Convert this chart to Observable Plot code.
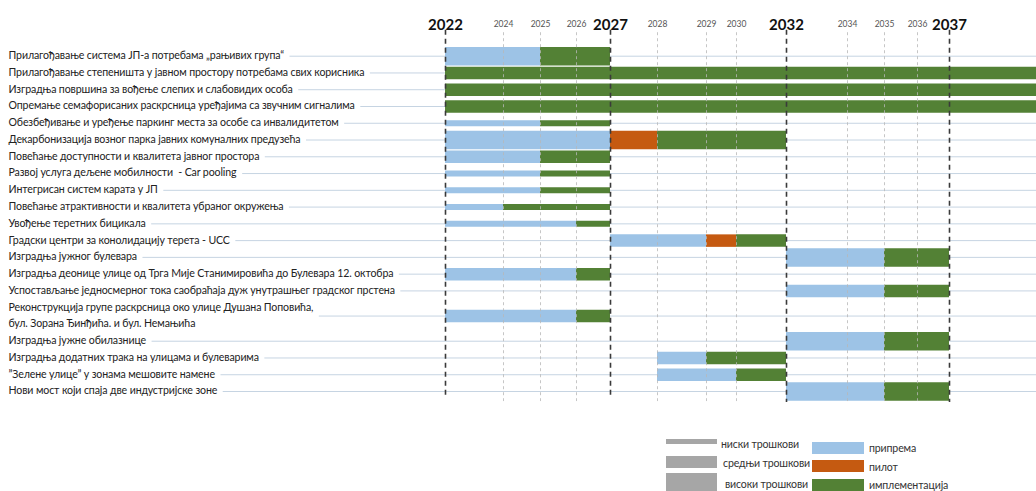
<!DOCTYPE html>
<html><head><meta charset="utf-8">
<script src="https://cdn.jsdelivr.net/npm/d3@7"></script>
<script src="https://cdn.jsdelivr.net/npm/@observablehq/plot@0.6"></script>
<style>
body{margin:0;background:#fff;font-family:Lato,sans-serif}
#legend{position:relative;height:71px;width:1036px;font-size:10.6px;letter-spacing:-0.15px;color:#333}
#legend div{position:absolute;white-space:nowrap}
</style>
</head><body><div id="chart"></div><div id="legend"></div>
<script>
// ---- data ----
const tasks = [
  "Прилагођавање система ЈП-а потребама „рањивих група“",
  "Прилагођавање степеништа у јавном простору потребама свих корисника",
  "Изградња површина за вођење слепих и слабовидих особа",
  "Опремање семафорисаних раскрсница уређајима са звучним сигналима",
  "Обезбеђивање и уређење паркинг места за особе са инвалидитетом",
  "Декарбонизација возног парка јавних комуналних предузећа",
  "Повећање доступности и квалитета јавног простора",
  "Развој услуга дељене мобилности  - Car pooling",
  "Интегрисан систем карата у ЈП",
  "Повећање атрактивности и квалитета убраног окружења",
  "Увођење теретних бицикала",
  "Градски центри за конолидацију терета - UCC",
  "Изградња јужног булевара",
  "Изградња деонице улице од Трга Мије Станимировића до Булевара 12. октобра",
  "Успостављање једносмерног тока саобраћаја дуж унутрашњег градског прстена",
  "Реконструкција групе раскрсница око улице Душана Поповића,\nбул. Зорана Ђинђића. и бул. Немањића",
  "Изградња јужне обилазнице",
  "Изградња додатних трака на улицама и булеварима",
  "”Зелене улице” у зонама мешовите намене",
  "Нови мост који спаја две индустријске зоне"
];
const rowSlot = [0,1,2,3,4,5,6,7,8,9,10,11,12,13,14,15.5,17,18,19,20];
const taskCost = ["high","mid","mid","mid","low","high","mid","low","low","low","low","mid","high","mid","mid","mid","high","mid","mid","high"];

const segTask  = [0,0, 1, 2, 3, 4,4, 5,5,5, 6,6, 7,7, 8,8, 9,9, 10,10, 11,11,11, 12,12, 13,13, 14,14, 15,15, 16,16, 17,17, 18,18, 19,19];
const segPhase = ["п","и", "и","и","и", "п","и", "п","л","и", "п","и", "п","и", "п","и", "п","и", "п","и", "п","л","и", "п","и", "п","и", "п","и", "п","и", "п","и", "п","и", "п","и", "п","и"];
const segStart = [2022,2025, 2022, 2022, 2022, 2022,2025, 2022,2027,2028, 2022,2025, 2022,2025, 2022,2025, 2022,2024, 2022,2026, 2027,2029,2030, 2032,2035, 2022,2026, 2032,2035, 2022,2026, 2032,2035, 2028,2029, 2028,2030, 2032,2035];
const segEnd   = [2025,2027, 2040, 2040, 2040, 2025,2027, 2027,2028,2032, 2025,2027, 2025,2027, 2025,2027, 2024,2027, 2026,2027, 2029,2030,2032, 2035,2037, 2026,2027, 2035,2037, 2026,2027, 2035,2037, 2029,2032, 2030,2032, 2035,2037];

const majorYears = [2022, 2027, 2032, 2037];
const minorYears = [2024, 2025, 2026, 2028, 2029, 2030, 2034, 2035, 2036];

const phaseKeys = ["п","л","и"];
const phaseNames = ["припрема","пилот","имплементација"];
const phaseColors = ["#9dc3e6","#c55a11","#538135"];
const costKeys = ["low","mid","high"];
const costNames = ["ниски трошкови","средњи трошкови","високи трошкови"];

// ---- scales (piecewise time axis as in the original) ----
const xDomain = [2022,2024,2025,2026,2027,2028,2029,2030,2032,2034,2035,2036,2037,2040];
const xRange  = [445, 503, 540, 576, 610, 657, 706, 736, 786, 847, 884, 917, 949, 1036];
const costWidth = {low: 6, mid: 12.5, high: 18.5};
const FAMILY = 'Lato, sans-serif';
const FONT = 10.6;
const SPACING = -0.12;

const segments = segTask.map((t, i) => ({
  row: rowSlot[t], cost: taskCost[t],
  phase: phaseNames[phaseKeys.indexOf(segPhase[i])],
  start: segStart[i], end: segEnd[i]
}));

const xs = Plot.scale({x: {type: "linear", domain: xDomain, range: xRange}});
const ctx = document.createElement("canvas").getContext("2d");
ctx.font = `${FONT}px ${FAMILY}`;
const leftM = 8;
const guides = tasks.map((t, i) => {
  const w = d3.max(t.split("\n"), s => ctx.measureText(s).width + s.length * SPACING);
  return {row: rowSlot[i], x1: xs.invert(leftM + w + 6), x2: xDomain[xDomain.length - 1]};
});

const chart = Plot.plot({
  width: 1036, height: 420,
  marginLeft: leftM, marginRight: 0, marginTop: 31, marginBottom: 0,
  x: {type: "linear", domain: xDomain, range: xRange, axis: null},
  y: {domain: [0, 20], range: [55.7, 391], axis: null},
  color: {domain: phaseNames, range: phaseColors},
  style: {fontFamily: FAMILY, background: "white"},
  marks: [
    Plot.ruleY(guides, {y: "row", x1: "x1", x2: "x2", stroke: "#c6d4e2", strokeWidth: 1}),
    Plot.ruleY(segments, {y: "row", x1: "start", x2: "end", stroke: "phase", strokeWidth: d => costWidth[d.cost]}),
    Plot.ruleX(minorYears, {x: d => d, y1: -1.4, y2: 20.6, stroke: "#b8b8b8", strokeWidth: 1, strokeDasharray: "3,3", strokeOpacity: 0.8}),
    Plot.ruleX(majorYears, {x: d => d, y1: -1.55, y2: d => d >= 2032 ? 20.65 : 20.25, stroke: "#3a3a3a", strokeWidth: 1.6, strokeDasharray: "5,4"}),
    Plot.axisX(majorYears, {anchor: "top", tickSize: 0, tickPadding: 2, fontSize: 15, fontWeight: "bold", fill: "#111", tickFormat: d => String(d), label: null}),
    Plot.axisX(minorYears, {anchor: "top", tickSize: 0, tickPadding: 5, fontSize: 8.5, fill: "#555", tickFormat: d => String(d), label: null}),
    Plot.text(tasks, {y: (d, i) => rowSlot[i], text: d => d, frameAnchor: "left", textAnchor: "start", fontSize: FONT, lineHeight: 1.45, dy: -2, fill: "#222"})
  ]
});
chart.querySelectorAll("text").forEach(t => { if (!t.closest("[aria-label^='x-axis']")) t.style.letterSpacing = SPACING + "px"; });
document.getElementById("chart").append(chart);

// ---- legend (below the SVG) ----
const lg = document.getElementById("legend");
const grayTops = [19, 36, 53], grayH = [5, 12, 18], grayTextY = [24, 43, 64];
costNames.forEach((n, i) => {
  const b = document.createElement("div");
  Object.assign(b.style, {left: "666px", top: grayTops[i] + "px", width: "51px", height: grayH[i] + "px", background: "#a6a6a6"});
  const t = document.createElement("div");
  Object.assign(t.style, {left: (721 + i * 2) + "px", top: (grayTextY[i] - 8) + "px", lineHeight: "16px"});
  t.textContent = n;
  lg.append(b, t);
});
const colTops = [22, 40, 59], colTextY = [28, 47, 65];
phaseNames.forEach((n, i) => {
  const b = document.createElement("div");
  Object.assign(b.style, {left: "812px", top: colTops[i] + "px", width: "52px", height: "12px", background: phaseColors[i]});
  const t = document.createElement("div");
  Object.assign(t.style, {left: "869px", top: (colTextY[i] - 8) + "px", lineHeight: "16px"});
  t.textContent = n;
  lg.append(b, t);
});
</script>
</body></html>
